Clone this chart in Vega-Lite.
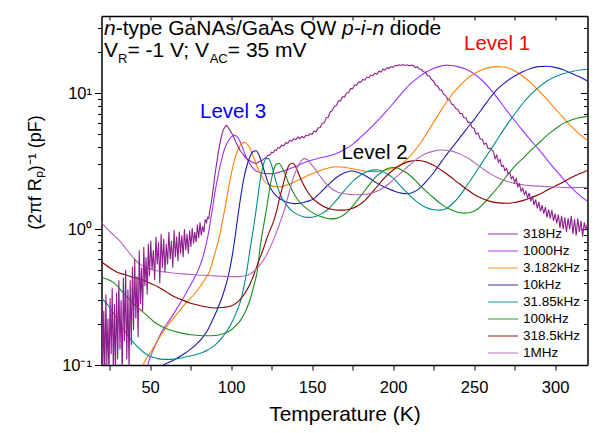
{
"$schema": "https://vega.github.io/schema/vega-lite/v6.json",
"width": 486, "height": 349,
"autosize": {"type": "none"},
"padding": {"left": 101.5, "top": 16, "right": 14.5, "bottom": 68},
"background": "white",
"config": {"font": "Liberation Sans", "view": {"stroke": null},
  "axis": {"grid": false, "domainColor": "black", "domainWidth": 1.5, "tickColor": "black", "tickWidth": 1, "labelColor": "black", "titleColor": "black", "titleFontWeight": "normal", "labelFont": "Liberation Sans", "titleFont": "Liberation Sans", "labelOverlap": false, "labelBound": false, "labelFlush": false}},
"datasets": {
"noisy": [
{"f":"318Hz","T":20.3,"C":0.30},{"f":"318Hz","T":20.8,"C":0.09},{"f":"318Hz","T":21.4,"C":0.25},{"f":"318Hz","T":22.0,"C":0.08},{"f":"318Hz","T":22.7,"C":0.33},{"f":"318Hz","T":23.3,"C":0.10},{"f":"318Hz","T":24.0,"C":0.22},{"f":"318Hz","T":24.6,"C":0.08},{"f":"318Hz","T":25.3,"C":0.31},{"f":"318Hz","T":26.0,"C":0.12},{"f":"318Hz","T":26.6,"C":0.37},{"f":"318Hz","T":27.3,"C":0.09},{"f":"318Hz","T":28.0,"C":0.28},{"f":"318Hz","T":28.6,"C":0.08},{"f":"318Hz","T":29.3,"C":0.34},{"f":"318Hz","T":30.0,"C":0.11},{"f":"318Hz","T":30.7,"C":0.42},{"f":"318Hz","T":31.4,"C":0.13},{"f":"318Hz","T":32.1,"C":0.30},{"f":"318Hz","T":32.8,"C":0.08},{"f":"318Hz","T":33.5,"C":0.44},{"f":"318Hz","T":34.2,"C":0.15},{"f":"318Hz","T":34.9,"C":0.50},{"f":"318Hz","T":35.6,"C":0.11},{"f":"318Hz","T":36.3,"C":0.36},{"f":"318Hz","T":37.0,"C":0.09},{"f":"318Hz","T":37.7,"C":0.42},{"f":"318Hz","T":38.4,"C":0.14},{"f":"318Hz","T":39.1,"C":0.53},{"f":"318Hz","T":39.8,"C":0.18},{"f":"318Hz","T":40.5,"C":0.60},{"f":"318Hz","T":41.2,"C":0.22},{"f":"318Hz","T":41.9,"C":0.45},{"f":"318Hz","T":42.6,"C":0.16},{"f":"318Hz","T":43.3,"C":0.70},{"f":"318Hz","T":44.0,"C":0.28},{"f":"318Hz","T":44.7,"C":0.52},{"f":"318Hz","T":45.4,"C":0.25},{"f":"318Hz","T":46.1,"C":0.74},{"f":"318Hz","T":46.8,"C":0.38},{"f":"318Hz","T":47.5,"C":0.62},{"f":"318Hz","T":48.2,"C":0.33},{"f":"318Hz","T":48.9,"C":0.78},{"f":"318Hz","T":49.6,"C":0.45},{"f":"318Hz","T":50.4,"C":0.82},{"f":"318Hz","T":51.2,"C":0.50},{"f":"318Hz","T":52.0,"C":0.70},{"f":"318Hz","T":52.8,"C":0.42},{"f":"318Hz","T":53.6,"C":0.88},{"f":"318Hz","T":54.4,"C":0.55},{"f":"318Hz","T":55.2,"C":0.80},{"f":"318Hz","T":56.0,"C":0.40},{"f":"318Hz","T":56.8,"C":0.92},{"f":"318Hz","T":57.6,"C":0.52},{"f":"318Hz","T":58.4,"C":0.85},{"f":"318Hz","T":59.2,"C":0.48},{"f":"318Hz","T":60.0,"C":0.78},{"f":"318Hz","T":60.8,"C":0.55},{"f":"318Hz","T":61.6,"C":0.95},{"f":"318Hz","T":62.4,"C":0.60},{"f":"318Hz","T":63.2,"C":0.82},{"f":"318Hz","T":64.0,"C":0.52},{"f":"318Hz","T":64.8,"C":0.98},{"f":"318Hz","T":65.6,"C":0.62},{"f":"318Hz","T":66.4,"C":0.88},{"f":"318Hz","T":67.2,"C":0.58},{"f":"318Hz","T":68.0,"C":0.96},{"f":"318Hz","T":68.8,"C":0.66},{"f":"318Hz","T":69.6,"C":0.90},{"f":"318Hz","T":70.4,"C":0.62},{"f":"318Hz","T":71.2,"C":1.00},{"f":"318Hz","T":72.0,"C":0.70},{"f":"318Hz","T":72.8,"C":0.92},{"f":"318Hz","T":73.6,"C":0.66},{"f":"318Hz","T":74.4,"C":0.98},{"f":"318Hz","T":75.2,"C":0.74},{"f":"318Hz","T":76.0,"C":1.02},{"f":"318Hz","T":76.8,"C":0.78},{"f":"318Hz","T":77.6,"C":0.95},{"f":"318Hz","T":78.4,"C":0.80},{"f":"318Hz","T":79.2,"C":1.08},{"f":"318Hz","T":80.0,"C":0.86},{"f":"318Hz","T":80.8,"C":1.12},{"f":"318Hz","T":81.6,"C":0.90},{"f":"318Hz","T":82.4,"C":1.05},{"f":"318Hz","T":83.2,"C":0.95},{"f":"318Hz","T":84.0,"C":1.18},{"f":"318Hz","T":84.8,"C":1.12},{"f":"318Hz","T":85.5,"C":1.22},{"f":"318Hz","T":86.2,"C":1.20},{"f":"318Hz","T":87.0,"C":1.40},{"f":"318Hz","T":88.0,"C":1.63},{"f":"318Hz","T":89.0,"C":2.0},{"f":"318Hz","T":90.0,"C":2.5},{"f":"318Hz","T":91.0,"C":3.0},{"f":"318Hz","T":92.0,"C":3.6},{"f":"318Hz","T":93.0,"C":4.2},{"f":"318Hz","T":94.0,"C":4.8},{"f":"318Hz","T":95.0,"C":5.3},{"f":"318Hz","T":96.0,"C":5.6},{"f":"318Hz","T":97.0,"C":5.8},{"f":"318Hz","T":97.8,"C":5.7},{"f":"318Hz","T":98.5,"C":5.5},{"f":"318Hz","T":99.5,"C":5.3},{"f":"318Hz","T":100.3,"C":5.1},{"f":"318Hz","T":101.2,"C":4.9},{"f":"318Hz","T":102.5,"C":4.5},{"f":"318Hz","T":104.0,"C":4.1},{"f":"318Hz","T":105.5,"C":3.8},{"f":"318Hz","T":107.0,"C":3.6},{"f":"318Hz","T":108.5,"C":3.4},{"f":"318Hz","T":110.0,"C":3.25},{"f":"318Hz","T":111.5,"C":3.2},{"f":"318Hz","T":113.0,"C":3.1},{"f":"318Hz","T":114.5,"C":3.05},{"f":"318Hz","T":116.0,"C":3.05},{"f":"318Hz","T":117.5,"C":3.15},{"f":"318Hz","T":119.0,"C":3.2},{"f":"318Hz","T":120.5,"C":3.3},{"f":"318Hz","T":122,"C":3.4},{"f":"318Hz","T":123,"C":3.5},{"f":"318Hz","T":124,"C":3.5},{"f":"318Hz","T":125,"C":3.68},{"f":"318Hz","T":126,"C":3.65},{"f":"318Hz","T":127,"C":3.82},{"f":"318Hz","T":128,"C":3.8},{"f":"318Hz","T":129,"C":3.98},{"f":"318Hz","T":130,"C":3.95},{"f":"318Hz","T":131.2,"C":4.15},{"f":"318Hz","T":132.5,"C":4.1},{"f":"318Hz","T":133.7,"C":4.32},{"f":"318Hz","T":135,"C":4.28},{"f":"318Hz","T":136.2,"C":4.5},{"f":"318Hz","T":137.5,"C":4.42},{"f":"318Hz","T":138.7,"C":4.62},{"f":"318Hz","T":140,"C":4.55},{"f":"318Hz","T":141.2,"C":4.75},{"f":"318Hz","T":142.5,"C":4.62},{"f":"318Hz","T":143.7,"C":4.8},{"f":"318Hz","T":145,"C":4.7},{"f":"318Hz","T":146.2,"C":4.92},{"f":"318Hz","T":147.5,"C":4.85},{"f":"318Hz","T":148.7,"C":5.05},{"f":"318Hz","T":150,"C":4.98},{"f":"318Hz","T":151.2,"C":5.25},{"f":"318Hz","T":152.5,"C":5.2},{"f":"318Hz","T":153.7,"C":5.55},{"f":"318Hz","T":155,"C":5.6},{"f":"318Hz","T":156.2,"C":6.0},{"f":"318Hz","T":157.5,"C":6.05},{"f":"318Hz","T":158.7,"C":6.6},{"f":"318Hz","T":160,"C":6.65},{"f":"318Hz","T":161.2,"C":7.3},{"f":"318Hz","T":162.5,"C":7.45},{"f":"318Hz","T":163.7,"C":8.0},{"f":"318Hz","T":165,"C":8.1},{"f":"318Hz","T":166.2,"C":8.8},{"f":"318Hz","T":167.5,"C":8.75},{"f":"318Hz","T":168.7,"C":9.4},{"f":"318Hz","T":170,"C":9.4},{"f":"318Hz","T":171.2,"C":10.0},{"f":"318Hz","T":172.5,"C":10.1},{"f":"318Hz","T":173.7,"C":10.8},{"f":"318Hz","T":175,"C":10.8},{"f":"318Hz","T":176.2,"C":11.5},{"f":"318Hz","T":177.5,"C":11.4},{"f":"318Hz","T":178.7,"C":12.1},{"f":"318Hz","T":180,"C":12.0},{"f":"318Hz","T":181.2,"C":12.6},{"f":"318Hz","T":182.5,"C":12.5},{"f":"318Hz","T":183.7,"C":13.1},{"f":"318Hz","T":185,"C":13.0},{"f":"318Hz","T":186.2,"C":13.6},{"f":"318Hz","T":187.5,"C":13.4},{"f":"318Hz","T":188.7,"C":14.0},{"f":"318Hz","T":190,"C":13.8},{"f":"318Hz","T":191.2,"C":14.5},{"f":"318Hz","T":192.5,"C":14.3},{"f":"318Hz","T":193.7,"C":15.0},{"f":"318Hz","T":195,"C":14.8},{"f":"318Hz","T":196.2,"C":15.4},{"f":"318Hz","T":197.5,"C":15.2},{"f":"318Hz","T":198.7,"C":15.7},{"f":"318Hz","T":200,"C":15.5},{"f":"318Hz","T":201.2,"C":16.0},{"f":"318Hz","T":202.5,"C":15.9},{"f":"318Hz","T":203.7,"C":16.2},{"f":"318Hz","T":205,"C":16.0},{"f":"318Hz","T":206.2,"C":16.25},{"f":"318Hz","T":207.5,"C":16.0},{"f":"318Hz","T":208.7,"C":16.2},{"f":"318Hz","T":210,"C":15.9},{"f":"318Hz","T":211.2,"C":16.1},{"f":"318Hz","T":212.5,"C":15.9},{"f":"318Hz","T":213.7,"C":15.5},{"f":"318Hz","T":215,"C":15.6},{"f":"318Hz","T":216.2,"C":15.0},{"f":"318Hz","T":217.5,"C":15.0},{"f":"318Hz","T":218.7,"C":14.4},{"f":"318Hz","T":220,"C":14.3},{"f":"318Hz","T":221.2,"C":13.5},{"f":"318Hz","T":222.5,"C":13.4},{"f":"318Hz","T":223.7,"C":12.6},{"f":"318Hz","T":225,"C":12.3},{"f":"318Hz","T":226.2,"C":11.5},{"f":"318Hz","T":227.5,"C":11.3},{"f":"318Hz","T":228.7,"C":10.6},{"f":"318Hz","T":230,"C":10.5},{"f":"318Hz","T":231.2,"C":9.8},{"f":"318Hz","T":232.5,"C":9.6},{"f":"318Hz","T":233.7,"C":9.0},{"f":"318Hz","T":235,"C":8.9},{"f":"318Hz","T":236.2,"C":8.3},{"f":"318Hz","T":237.5,"C":8.2},{"f":"318Hz","T":238.7,"C":7.7},{"f":"318Hz","T":240,"C":7.6},{"f":"318Hz","T":241.2,"C":7.1},{"f":"318Hz","T":242.5,"C":7.1},{"f":"318Hz","T":243.7,"C":6.6},{"f":"318Hz","T":245,"C":6.6},{"f":"318Hz","T":246.2,"C":6.1},{"f":"318Hz","T":247.5,"C":6.1},{"f":"318Hz","T":248.7,"C":5.6},{"f":"318Hz","T":250,"C":5.5},{"f":"318Hz","T":251.2,"C":5.0},{"f":"318Hz","T":252.5,"C":5.1},{"f":"318Hz","T":253.7,"C":4.6},{"f":"318Hz","T":255,"C":4.6},{"f":"318Hz","T":256.2,"C":4.2},{"f":"318Hz","T":257.5,"C":4.3},{"f":"318Hz","T":258.7,"C":3.9},{"f":"318Hz","T":260,"C":3.95},{"f":"318Hz","T":262,"C":3.7},{"f":"318Hz","T":263,"C":3.3},{"f":"318Hz","T":264,"C":3.5},{"f":"318Hz","T":265,"C":3.1},{"f":"318Hz","T":266,"C":3.25},{"f":"318Hz","T":267,"C":2.9},{"f":"318Hz","T":268,"C":2.95},{"f":"318Hz","T":269,"C":2.7},{"f":"318Hz","T":270,"C":2.8},{"f":"318Hz","T":271,"C":2.55},{"f":"318Hz","T":272,"C":2.6},{"f":"318Hz","T":273,"C":2.35},{"f":"318Hz","T":274,"C":2.45},{"f":"318Hz","T":275,"C":2.2},{"f":"318Hz","T":276,"C":2.35},{"f":"318Hz","T":277,"C":2.05},{"f":"318Hz","T":278,"C":2.15},{"f":"318Hz","T":279,"C":1.9},{"f":"318Hz","T":280,"C":2.0},{"f":"318Hz","T":281,"C":1.8},{"f":"318Hz","T":282,"C":1.9},{"f":"318Hz","T":283,"C":1.7},{"f":"318Hz","T":284,"C":1.85},{"f":"318Hz","T":285,"C":1.6},{"f":"318Hz","T":286,"C":1.75},{"f":"318Hz","T":287,"C":1.5},{"f":"318Hz","T":288,"C":1.65},{"f":"318Hz","T":289,"C":1.42},{"f":"318Hz","T":290,"C":1.58},{"f":"318Hz","T":291,"C":1.35},{"f":"318Hz","T":292,"C":1.5},{"f":"318Hz","T":293,"C":1.3},{"f":"318Hz","T":294,"C":1.45},{"f":"318Hz","T":295,"C":1.22},{"f":"318Hz","T":296,"C":1.4},{"f":"318Hz","T":297,"C":1.2},{"f":"318Hz","T":298,"C":1.38},{"f":"318Hz","T":299,"C":1.15},{"f":"318Hz","T":300,"C":1.3},{"f":"318Hz","T":301,"C":1.1},{"f":"318Hz","T":302,"C":1.28},{"f":"318Hz","T":303,"C":1.02},{"f":"318Hz","T":304,"C":1.25},{"f":"318Hz","T":305,"C":1.0},{"f":"318Hz","T":306,"C":1.22},{"f":"318Hz","T":307,"C":0.95},{"f":"318Hz","T":308,"C":1.2},{"f":"318Hz","T":309,"C":1.0},{"f":"318Hz","T":310,"C":1.25},{"f":"318Hz","T":311,"C":0.92},{"f":"318Hz","T":312,"C":1.18},{"f":"318Hz","T":313,"C":0.9},{"f":"318Hz","T":314,"C":1.2},{"f":"318Hz","T":315,"C":0.95},{"f":"318Hz","T":316,"C":1.15},{"f":"318Hz","T":317,"C":0.88},{"f":"318Hz","T":318,"C":1.12},{"f":"318Hz","T":319,"C":0.98},{"f":"318Hz","T":320,"C":1.1}
],
"smooth": [
{"f":"1000Hz","T":48.5,"C":0.1},{"f":"1000Hz","T":50,"C":0.113},{"f":"1000Hz","T":53,"C":0.138},{"f":"1000Hz","T":56,"C":0.165},{"f":"1000Hz","T":59,"C":0.19},{"f":"1000Hz","T":62,"C":0.214},{"f":"1000Hz","T":65,"C":0.243},{"f":"1000Hz","T":68,"C":0.278},{"f":"1000Hz","T":71,"C":0.318},{"f":"1000Hz","T":74,"C":0.37},{"f":"1000Hz","T":77,"C":0.43},{"f":"1000Hz","T":80,"C":0.51},{"f":"1000Hz","T":82,"C":0.59},{"f":"1000Hz","T":84,"C":0.72},{"f":"1000Hz","T":86,"C":0.93},{"f":"1000Hz","T":88,"C":1.3},{"f":"1000Hz","T":90,"C":1.85},{"f":"1000Hz","T":92,"C":2.5},{"f":"1000Hz","T":94,"C":3.2},{"f":"1000Hz","T":96,"C":3.9},{"f":"1000Hz","T":98,"C":4.4},{"f":"1000Hz","T":100,"C":4.75},{"f":"1000Hz","T":102,"C":4.9},{"f":"1000Hz","T":103.5,"C":4.8},{"f":"1000Hz","T":105,"C":4.55},{"f":"1000Hz","T":107,"C":4.0},{"f":"1000Hz","T":109,"C":3.45},{"f":"1000Hz","T":111,"C":3.1},{"f":"1000Hz","T":113,"C":2.85},{"f":"1000Hz","T":115,"C":2.7},{"f":"1000Hz","T":117.5,"C":2.62},{"f":"1000Hz","T":120,"C":2.58},{"f":"1000Hz","T":122.5,"C":2.56},{"f":"1000Hz","T":125,"C":2.56},{"f":"1000Hz","T":127.5,"C":2.58},{"f":"1000Hz","T":130,"C":2.63},{"f":"1000Hz","T":135,"C":2.75},{"f":"1000Hz","T":140,"C":2.9},{"f":"1000Hz","T":145,"C":3.08},{"f":"1000Hz","T":150,"C":3.22},{"f":"1000Hz","T":155,"C":3.35},{"f":"1000Hz","T":160,"C":3.45},{"f":"1000Hz","T":165,"C":3.6},{"f":"1000Hz","T":170,"C":3.85},{"f":"1000Hz","T":175,"C":4.2},{"f":"1000Hz","T":180,"C":4.75},{"f":"1000Hz","T":185,"C":5.4},{"f":"1000Hz","T":190,"C":6.2},{"f":"1000Hz","T":195,"C":7.2},{"f":"1000Hz","T":200,"C":8.4},{"f":"1000Hz","T":205,"C":9.9},{"f":"1000Hz","T":210,"C":11.5},{"f":"1000Hz","T":215,"C":12.9},{"f":"1000Hz","T":220,"C":14.2},{"f":"1000Hz","T":225,"C":15.2},{"f":"1000Hz","T":230,"C":15.9},{"f":"1000Hz","T":233,"C":16.1},{"f":"1000Hz","T":236,"C":16.0},{"f":"1000Hz","T":240,"C":15.7},{"f":"1000Hz","T":245,"C":15.0},{"f":"1000Hz","T":250,"C":13.9},{"f":"1000Hz","T":255,"C":12.4},{"f":"1000Hz","T":260,"C":10.7},{"f":"1000Hz","T":265,"C":9.0},{"f":"1000Hz","T":270,"C":7.5},{"f":"1000Hz","T":275,"C":6.3},{"f":"1000Hz","T":280,"C":5.3},{"f":"1000Hz","T":285,"C":4.5},{"f":"1000Hz","T":290,"C":3.85},{"f":"1000Hz","T":295,"C":3.25},{"f":"1000Hz","T":300,"C":2.75},{"f":"1000Hz","T":305,"C":2.35},{"f":"1000Hz","T":310,"C":2.02},{"f":"1000Hz","T":315,"C":1.78},{"f":"1000Hz","T":320,"C":1.6},
{"f":"3.182kHz","T":45.5,"C":0.1},{"f":"3.182kHz","T":48,"C":0.113},{"f":"3.182kHz","T":51,"C":0.128},{"f":"3.182kHz","T":54,"C":0.147},{"f":"3.182kHz","T":57,"C":0.168},{"f":"3.182kHz","T":60,"C":0.19},{"f":"3.182kHz","T":63,"C":0.21},{"f":"3.182kHz","T":66,"C":0.233},{"f":"3.182kHz","T":69,"C":0.258},{"f":"3.182kHz","T":72,"C":0.285},{"f":"3.182kHz","T":75,"C":0.31},{"f":"3.182kHz","T":78,"C":0.34},{"f":"3.182kHz","T":81,"C":0.38},{"f":"3.182kHz","T":84,"C":0.43},{"f":"3.182kHz","T":87,"C":0.5},{"f":"3.182kHz","T":89,"C":0.6},{"f":"3.182kHz","T":91,"C":0.73},{"f":"3.182kHz","T":93,"C":0.9},{"f":"3.182kHz","T":95,"C":1.2},{"f":"3.182kHz","T":97,"C":1.6},{"f":"3.182kHz","T":99,"C":2.2},{"f":"3.182kHz","T":101,"C":2.85},{"f":"3.182kHz","T":103,"C":3.5},{"f":"3.182kHz","T":105,"C":4.0},{"f":"3.182kHz","T":107,"C":4.3},{"f":"3.182kHz","T":108.5,"C":4.35},{"f":"3.182kHz","T":110,"C":4.2},{"f":"3.182kHz","T":112,"C":3.85},{"f":"3.182kHz","T":114,"C":3.35},{"f":"3.182kHz","T":116,"C":2.9},{"f":"3.182kHz","T":118,"C":2.55},{"f":"3.182kHz","T":120,"C":2.3},{"f":"3.182kHz","T":122.5,"C":2.15},{"f":"3.182kHz","T":125,"C":2.08},{"f":"3.182kHz","T":127.5,"C":2.05},{"f":"3.182kHz","T":130,"C":2.05},{"f":"3.182kHz","T":133,"C":2.08},{"f":"3.182kHz","T":136,"C":2.15},{"f":"3.182kHz","T":140,"C":2.25},{"f":"3.182kHz","T":145,"C":2.4},{"f":"3.182kHz","T":150,"C":2.55},{"f":"3.182kHz","T":155,"C":2.7},{"f":"3.182kHz","T":160,"C":2.82},{"f":"3.182kHz","T":165,"C":2.88},{"f":"3.182kHz","T":170,"C":2.85},{"f":"3.182kHz","T":175,"C":2.78},{"f":"3.182kHz","T":180,"C":2.7},{"f":"3.182kHz","T":185,"C":2.65},{"f":"3.182kHz","T":190,"C":2.65},{"f":"3.182kHz","T":195,"C":2.7},{"f":"3.182kHz","T":200,"C":2.8},{"f":"3.182kHz","T":205,"C":3.0},{"f":"3.182kHz","T":210,"C":3.4},{"f":"3.182kHz","T":215,"C":4.0},{"f":"3.182kHz","T":220,"C":4.9},{"f":"3.182kHz","T":225,"C":6.1},{"f":"3.182kHz","T":230,"C":7.6},{"f":"3.182kHz","T":235,"C":9.3},{"f":"3.182kHz","T":240,"C":11.0},{"f":"3.182kHz","T":245,"C":12.6},{"f":"3.182kHz","T":250,"C":13.9},{"f":"3.182kHz","T":255,"C":14.9},{"f":"3.182kHz","T":260,"C":15.5},{"f":"3.182kHz","T":264,"C":15.7},{"f":"3.182kHz","T":268,"C":15.6},{"f":"3.182kHz","T":272,"C":15.2},{"f":"3.182kHz","T":276,"C":14.4},{"f":"3.182kHz","T":280,"C":13.4},{"f":"3.182kHz","T":285,"C":11.9},{"f":"3.182kHz","T":290,"C":10.4},{"f":"3.182kHz","T":295,"C":9.0},{"f":"3.182kHz","T":300,"C":7.7},{"f":"3.182kHz","T":305,"C":6.6},{"f":"3.182kHz","T":310,"C":5.7},{"f":"3.182kHz","T":315,"C":5.0},{"f":"3.182kHz","T":320,"C":4.5},
{"f":"10kHz","T":58,"C":0.1},{"f":"10kHz","T":62,"C":0.105},{"f":"10kHz","T":66,"C":0.111},{"f":"10kHz","T":70,"C":0.119},{"f":"10kHz","T":74,"C":0.128},{"f":"10kHz","T":78,"C":0.14},{"f":"10kHz","T":82,"C":0.157},{"f":"10kHz","T":86,"C":0.185},{"f":"10kHz","T":89,"C":0.22},{"f":"10kHz","T":92,"C":0.265},{"f":"10kHz","T":95,"C":0.33},{"f":"10kHz","T":98,"C":0.44},{"f":"10kHz","T":100,"C":0.57},{"f":"10kHz","T":102,"C":0.8},{"f":"10kHz","T":104,"C":1.2},{"f":"10kHz","T":106,"C":1.75},{"f":"10kHz","T":108,"C":2.4},{"f":"10kHz","T":110,"C":3.0},{"f":"10kHz","T":112,"C":3.5},{"f":"10kHz","T":114,"C":3.75},{"f":"10kHz","T":115.5,"C":3.77},{"f":"10kHz","T":117,"C":3.55},{"f":"10kHz","T":119,"C":3.05},{"f":"10kHz","T":121,"C":2.55},{"f":"10kHz","T":123,"C":2.18},{"f":"10kHz","T":125.5,"C":1.9},{"f":"10kHz","T":128,"C":1.75},{"f":"10kHz","T":131,"C":1.65},{"f":"10kHz","T":135,"C":1.57},{"f":"10kHz","T":139,"C":1.54},{"f":"10kHz","T":143,"C":1.55},{"f":"10kHz","T":147,"C":1.6},{"f":"10kHz","T":151,"C":1.67},{"f":"10kHz","T":155,"C":1.85},{"f":"10kHz","T":160,"C":2.12},{"f":"10kHz","T":165,"C":2.4},{"f":"10kHz","T":170,"C":2.6},{"f":"10kHz","T":174,"C":2.68},{"f":"10kHz","T":178,"C":2.62},{"f":"10kHz","T":182,"C":2.5},{"f":"10kHz","T":186,"C":2.35},{"f":"10kHz","T":190,"C":2.18},{"f":"10kHz","T":195,"C":2.03},{"f":"10kHz","T":200,"C":1.92},{"f":"10kHz","T":205,"C":1.84},{"f":"10kHz","T":209,"C":1.82},{"f":"10kHz","T":213,"C":1.88},{"f":"10kHz","T":217,"C":2.03},{"f":"10kHz","T":221,"C":2.28},{"f":"10kHz","T":225,"C":2.6},{"f":"10kHz","T":230,"C":3.15},{"f":"10kHz","T":235,"C":3.8},{"f":"10kHz","T":240,"C":4.5},{"f":"10kHz","T":245,"C":5.4},{"f":"10kHz","T":250,"C":6.4},{"f":"10kHz","T":255,"C":7.7},{"f":"10kHz","T":260,"C":9.3},{"f":"10kHz","T":265,"C":10.9},{"f":"10kHz","T":270,"C":12.2},{"f":"10kHz","T":275,"C":13.4},{"f":"10kHz","T":280,"C":14.4},{"f":"10kHz","T":285,"C":15.2},{"f":"10kHz","T":290,"C":15.7},{"f":"10kHz","T":295,"C":15.8},{"f":"10kHz","T":300,"C":15.5},{"f":"10kHz","T":305,"C":14.9},{"f":"10kHz","T":310,"C":14.0},{"f":"10kHz","T":315,"C":13.2},{"f":"10kHz","T":320,"C":12.3},
{"f":"31.85kHz","T":20,"C":0.31},{"f":"31.85kHz","T":23,"C":0.285},{"f":"31.85kHz","T":26,"C":0.255},{"f":"31.85kHz","T":30,"C":0.215},{"f":"31.85kHz","T":34,"C":0.18},{"f":"31.85kHz","T":38,"C":0.155},{"f":"31.85kHz","T":42,"C":0.137},{"f":"31.85kHz","T":46,"C":0.124},{"f":"31.85kHz","T":50,"C":0.116},{"f":"31.85kHz","T":54,"C":0.112},{"f":"31.85kHz","T":58,"C":0.11},{"f":"31.85kHz","T":62,"C":0.11},{"f":"31.85kHz","T":66,"C":0.111},{"f":"31.85kHz","T":70,"C":0.113},{"f":"31.85kHz","T":74,"C":0.116},{"f":"31.85kHz","T":78,"C":0.119},{"f":"31.85kHz","T":82,"C":0.123},{"f":"31.85kHz","T":86,"C":0.13},{"f":"31.85kHz","T":90,"C":0.14},{"f":"31.85kHz","T":94,"C":0.157},{"f":"31.85kHz","T":97,"C":0.175},{"f":"31.85kHz","T":100,"C":0.2},{"f":"31.85kHz","T":103,"C":0.24},{"f":"31.85kHz","T":106,"C":0.3},{"f":"31.85kHz","T":108,"C":0.38},{"f":"31.85kHz","T":110,"C":0.52},{"f":"31.85kHz","T":112,"C":0.75},{"f":"31.85kHz","T":114,"C":1.05},{"f":"31.85kHz","T":116,"C":1.55},{"f":"31.85kHz","T":118,"C":2.3},{"f":"31.85kHz","T":120,"C":3.0},{"f":"31.85kHz","T":121.5,"C":3.3},{"f":"31.85kHz","T":123,"C":3.3},{"f":"31.85kHz","T":125,"C":2.95},{"f":"31.85kHz","T":127,"C":2.4},{"f":"31.85kHz","T":129,"C":1.98},{"f":"31.85kHz","T":131,"C":1.73},{"f":"31.85kHz","T":134,"C":1.52},{"f":"31.85kHz","T":137,"C":1.38},{"f":"31.85kHz","T":140,"C":1.3},{"f":"31.85kHz","T":144,"C":1.24},{"f":"31.85kHz","T":148,"C":1.22},{"f":"31.85kHz","T":152,"C":1.24},{"f":"31.85kHz","T":156,"C":1.3},{"f":"31.85kHz","T":160,"C":1.4},{"f":"31.85kHz","T":164,"C":1.58},{"f":"31.85kHz","T":168,"C":1.8},{"f":"31.85kHz","T":172,"C":2.05},{"f":"31.85kHz","T":176,"C":2.3},{"f":"31.85kHz","T":180,"C":2.5},{"f":"31.85kHz","T":184,"C":2.65},{"f":"31.85kHz","T":188,"C":2.73},{"f":"31.85kHz","T":191,"C":2.72},{"f":"31.85kHz","T":195,"C":2.6},{"f":"31.85kHz","T":200,"C":2.38},{"f":"31.85kHz","T":205,"C":2.05},{"f":"31.85kHz","T":210,"C":1.78},{"f":"31.85kHz","T":215,"C":1.58},{"f":"31.85kHz","T":220,"C":1.45},{"f":"31.85kHz","T":225,"C":1.39},{"f":"31.85kHz","T":229,"C":1.38},{"f":"31.85kHz","T":233,"C":1.42},{"f":"31.85kHz","T":237,"C":1.55},{"f":"31.85kHz","T":241,"C":1.75},{"f":"31.85kHz","T":245,"C":2.05},{"f":"31.85kHz","T":250,"C":2.5},{"f":"31.85kHz","T":255,"C":3.1},{"f":"31.85kHz","T":260,"C":3.8},{"f":"31.85kHz","T":265,"C":4.7},{"f":"31.85kHz","T":270,"C":5.8},{"f":"31.85kHz","T":275,"C":7.0},{"f":"31.85kHz","T":280,"C":8.4},{"f":"31.85kHz","T":285,"C":9.8},{"f":"31.85kHz","T":290,"C":11.1},{"f":"31.85kHz","T":295,"C":12.3},{"f":"31.85kHz","T":300,"C":13.2},{"f":"31.85kHz","T":305,"C":13.9},{"f":"31.85kHz","T":310,"C":14.4},{"f":"31.85kHz","T":315,"C":14.8},{"f":"31.85kHz","T":320,"C":15.0},
{"f":"100kHz","T":20,"C":0.44},{"f":"100kHz","T":24,"C":0.425},{"f":"100kHz","T":28,"C":0.4},{"f":"100kHz","T":32,"C":0.355},{"f":"100kHz","T":36,"C":0.315},{"f":"100kHz","T":40,"C":0.28},{"f":"100kHz","T":44,"C":0.255},{"f":"100kHz","T":48,"C":0.232},{"f":"100kHz","T":52,"C":0.21},{"f":"100kHz","T":56,"C":0.195},{"f":"100kHz","T":60,"C":0.185},{"f":"100kHz","T":65,"C":0.177},{"f":"100kHz","T":70,"C":0.171},{"f":"100kHz","T":75,"C":0.167},{"f":"100kHz","T":80,"C":0.165},{"f":"100kHz","T":85,"C":0.164},{"f":"100kHz","T":90,"C":0.165},{"f":"100kHz","T":95,"C":0.17},{"f":"100kHz","T":99,"C":0.178},{"f":"100kHz","T":103,"C":0.195},{"f":"100kHz","T":106,"C":0.215},{"f":"100kHz","T":109,"C":0.25},{"f":"100kHz","T":112,"C":0.31},{"f":"100kHz","T":114,"C":0.38},{"f":"100kHz","T":116,"C":0.48},{"f":"100kHz","T":118,"C":0.75},{"f":"100kHz","T":120,"C":1.05},{"f":"100kHz","T":122,"C":1.45},{"f":"100kHz","T":124,"C":2.05},{"f":"100kHz","T":126,"C":2.65},{"f":"100kHz","T":128,"C":3.0},{"f":"100kHz","T":129.5,"C":3.05},{"f":"100kHz","T":131,"C":2.9},{"f":"100kHz","T":133,"C":2.6},{"f":"100kHz","T":135,"C":2.25},{"f":"100kHz","T":138,"C":1.9},{"f":"100kHz","T":141,"C":1.65},{"f":"100kHz","T":145,"C":1.47},{"f":"100kHz","T":149,"C":1.35},{"f":"100kHz","T":153,"C":1.27},{"f":"100kHz","T":157,"C":1.22},{"f":"100kHz","T":161,"C":1.19},{"f":"100kHz","T":165,"C":1.2},{"f":"100kHz","T":169,"C":1.26},{"f":"100kHz","T":173,"C":1.38},{"f":"100kHz","T":177,"C":1.58},{"f":"100kHz","T":181,"C":1.82},{"f":"100kHz","T":185,"C":2.1},{"f":"100kHz","T":189,"C":2.4},{"f":"100kHz","T":193,"C":2.63},{"f":"100kHz","T":197,"C":2.8},{"f":"100kHz","T":200,"C":2.84},{"f":"100kHz","T":203,"C":2.8},{"f":"100kHz","T":207,"C":2.65},{"f":"100kHz","T":211,"C":2.45},{"f":"100kHz","T":215,"C":2.2},{"f":"100kHz","T":220,"C":1.92},{"f":"100kHz","T":225,"C":1.7},{"f":"100kHz","T":230,"C":1.52},{"f":"100kHz","T":235,"C":1.4},{"f":"100kHz","T":240,"C":1.33},{"f":"100kHz","T":244,"C":1.31},{"f":"100kHz","T":248,"C":1.33},{"f":"100kHz","T":252,"C":1.4},{"f":"100kHz","T":256,"C":1.55},{"f":"100kHz","T":260,"C":1.75},{"f":"100kHz","T":265,"C":2.05},{"f":"100kHz","T":270,"C":2.45},{"f":"100kHz","T":275,"C":2.9},{"f":"100kHz","T":280,"C":3.3},{"f":"100kHz","T":285,"C":3.8},{"f":"100kHz","T":290,"C":4.3},{"f":"100kHz","T":295,"C":4.9},{"f":"100kHz","T":300,"C":5.45},{"f":"100kHz","T":305,"C":6.0},{"f":"100kHz","T":310,"C":6.35},{"f":"100kHz","T":315,"C":6.6},{"f":"100kHz","T":320,"C":6.75},
{"f":"318.5kHz","T":20,"C":0.575},{"f":"318.5kHz","T":25,"C":0.52},{"f":"318.5kHz","T":30,"C":0.48},{"f":"318.5kHz","T":35,"C":0.46},{"f":"318.5kHz","T":40,"C":0.44},{"f":"318.5kHz","T":45,"C":0.425},{"f":"318.5kHz","T":50,"C":0.4},{"f":"318.5kHz","T":55,"C":0.375},{"f":"318.5kHz","T":60,"C":0.345},{"f":"318.5kHz","T":65,"C":0.318},{"f":"318.5kHz","T":70,"C":0.3},{"f":"318.5kHz","T":75,"C":0.285},{"f":"318.5kHz","T":80,"C":0.275},{"f":"318.5kHz","T":85,"C":0.267},{"f":"318.5kHz","T":90,"C":0.263},{"f":"318.5kHz","T":95,"C":0.265},{"f":"318.5kHz","T":100,"C":0.272},{"f":"318.5kHz","T":104,"C":0.29},{"f":"318.5kHz","T":108,"C":0.33},{"f":"318.5kHz","T":111,"C":0.38},{"f":"318.5kHz","T":114,"C":0.46},{"f":"318.5kHz","T":117,"C":0.58},{"f":"318.5kHz","T":120,"C":0.72},{"f":"318.5kHz","T":122,"C":0.85},{"f":"318.5kHz","T":124,"C":0.98},{"f":"318.5kHz","T":126,"C":1.12},{"f":"318.5kHz","T":128,"C":1.35},{"f":"318.5kHz","T":130,"C":1.7},{"f":"318.5kHz","T":132,"C":2.1},{"f":"318.5kHz","T":134,"C":2.6},{"f":"318.5kHz","T":136,"C":2.98},{"f":"318.5kHz","T":138,"C":3.05},{"f":"318.5kHz","T":140,"C":2.85},{"f":"318.5kHz","T":142,"C":2.5},{"f":"318.5kHz","T":144,"C":2.2},{"f":"318.5kHz","T":147,"C":1.9},{"f":"318.5kHz","T":150,"C":1.7},{"f":"318.5kHz","T":154,"C":1.55},{"f":"318.5kHz","T":158,"C":1.45},{"f":"318.5kHz","T":162,"C":1.4},{"f":"318.5kHz","T":166,"C":1.38},{"f":"318.5kHz","T":170,"C":1.38},{"f":"318.5kHz","T":174,"C":1.41},{"f":"318.5kHz","T":178,"C":1.48},{"f":"318.5kHz","T":182,"C":1.6},{"f":"318.5kHz","T":186,"C":1.8},{"f":"318.5kHz","T":190,"C":2.05},{"f":"318.5kHz","T":195,"C":2.4},{"f":"318.5kHz","T":200,"C":2.72},{"f":"318.5kHz","T":205,"C":2.98},{"f":"318.5kHz","T":210,"C":3.15},{"f":"318.5kHz","T":215,"C":3.2},{"f":"318.5kHz","T":220,"C":3.13},{"f":"318.5kHz","T":225,"C":2.95},{"f":"318.5kHz","T":230,"C":2.7},{"f":"318.5kHz","T":235,"C":2.45},{"f":"318.5kHz","T":240,"C":2.2},{"f":"318.5kHz","T":245,"C":1.98},{"f":"318.5kHz","T":250,"C":1.8},{"f":"318.5kHz","T":255,"C":1.68},{"f":"318.5kHz","T":260,"C":1.6},{"f":"318.5kHz","T":265,"C":1.56},{"f":"318.5kHz","T":270,"C":1.55},{"f":"318.5kHz","T":275,"C":1.57},{"f":"318.5kHz","T":280,"C":1.62},{"f":"318.5kHz","T":285,"C":1.7},{"f":"318.5kHz","T":290,"C":1.8},{"f":"318.5kHz","T":295,"C":1.93},{"f":"318.5kHz","T":300,"C":2.07},{"f":"318.5kHz","T":305,"C":2.22},{"f":"318.5kHz","T":310,"C":2.4},{"f":"318.5kHz","T":315,"C":2.55},{"f":"318.5kHz","T":320,"C":2.7},
{"f":"1MHz","T":20,"C":1.12},{"f":"1MHz","T":23,"C":1.02},{"f":"1MHz","T":26,"C":0.94},{"f":"1MHz","T":29,"C":0.87},{"f":"1MHz","T":32,"C":0.8},{"f":"1MHz","T":35,"C":0.72},{"f":"1MHz","T":38,"C":0.65},{"f":"1MHz","T":41,"C":0.59},{"f":"1MHz","T":44,"C":0.55},{"f":"1MHz","T":48,"C":0.52},{"f":"1MHz","T":52,"C":0.5},{"f":"1MHz","T":58,"C":0.485},{"f":"1MHz","T":64,"C":0.475},{"f":"1MHz","T":70,"C":0.468},{"f":"1MHz","T":76,"C":0.463},{"f":"1MHz","T":82,"C":0.458},{"f":"1MHz","T":88,"C":0.454},{"f":"1MHz","T":94,"C":0.45},{"f":"1MHz","T":100,"C":0.447},{"f":"1MHz","T":105,"C":0.447},{"f":"1MHz","T":109,"C":0.455},{"f":"1MHz","T":112,"C":0.47},{"f":"1MHz","T":115,"C":0.5},{"f":"1MHz","T":118,"C":0.55},{"f":"1MHz","T":121,"C":0.62},{"f":"1MHz","T":124,"C":0.73},{"f":"1MHz","T":127,"C":0.88},{"f":"1MHz","T":130,"C":1.1},{"f":"1MHz","T":133,"C":1.4},{"f":"1MHz","T":136,"C":1.9},{"f":"1MHz","T":139,"C":2.5},{"f":"1MHz","T":142,"C":3.0},{"f":"1MHz","T":145,"C":3.3},{"f":"1MHz","T":147,"C":3.25},{"f":"1MHz","T":149,"C":3.05},{"f":"1MHz","T":152,"C":2.75},{"f":"1MHz","T":155,"C":2.45},{"f":"1MHz","T":158,"C":2.2},{"f":"1MHz","T":162,"C":1.98},{"f":"1MHz","T":166,"C":1.87},{"f":"1MHz","T":170,"C":1.82},{"f":"1MHz","T":174,"C":1.8},{"f":"1MHz","T":178,"C":1.79},{"f":"1MHz","T":182,"C":1.8},{"f":"1MHz","T":186,"C":1.83},{"f":"1MHz","T":190,"C":1.9},{"f":"1MHz","T":195,"C":2.05},{"f":"1MHz","T":200,"C":2.3},{"f":"1MHz","T":205,"C":2.6},{"f":"1MHz","T":210,"C":2.95},{"f":"1MHz","T":215,"C":3.3},{"f":"1MHz","T":220,"C":3.58},{"f":"1MHz","T":225,"C":3.75},{"f":"1MHz","T":230,"C":3.82},{"f":"1MHz","T":235,"C":3.78},{"f":"1MHz","T":240,"C":3.62},{"f":"1MHz","T":245,"C":3.4},{"f":"1MHz","T":250,"C":3.1},{"f":"1MHz","T":255,"C":2.8},{"f":"1MHz","T":260,"C":2.55},{"f":"1MHz","T":265,"C":2.38},{"f":"1MHz","T":270,"C":2.25},{"f":"1MHz","T":275,"C":2.17},{"f":"1MHz","T":280,"C":2.12},{"f":"1MHz","T":285,"C":2.09},{"f":"1MHz","T":290,"C":2.07},{"f":"1MHz","T":300,"C":2.04},{"f":"1MHz","T":310,"C":2.02},{"f":"1MHz","T":320,"C":2.03}
],
"normalText": [{"T":28.77,"C":26.92,"s":"-type GaNAs/GaAs QW"},{"T":198.0,"C":26.92,"s":"diode"},{"T":21.54,"C":18.55,"s":"V"},{"T":36.0,"C":18.55,"s":"= -1 V; V"},{"T":97.96,"C":18.55,"s":"= 35 mV"}],
"italicText": [{"T":21.54,"C":26.92,"s":"n"},{"T":168.52,"C":26.92,"s":"p-i-n"}],
"subText": [{"T":30.19,"C":16.62,"s":"R"},{"T":86.79,"C":16.62,"s":"AC"}]
},
"layer": [
{"data": {"name": "smooth"},
 "mark": {"type": "line", "interpolate": "monotone", "strokeWidth": 1.1, "clip": true},
 "encoding": {
  "x": {"field": "T", "type": "quantitative", "scale": {"domain": [20, 320], "nice": false, "zero": false},
    "axis": {"orient": "bottom", "values": [25,50,75,100,125,150,175,200,225,250,275,300], "labelExpr": "datum.value % 50 == 0 ? datum.label : ''", "tickSize": 5, "labelFontSize": 16.5, "labelPadding": 9, "title": "Temperature (K)", "titleFontSize": 21, "titleBaseline": "alphabetic", "titleY": 55}},
  "y": {"field": "C", "type": "quantitative", "scale": {"type": "log", "domain": [0.1, 37], "nice": false},
    "axis": {"orient": "left", "values": [0.1,0.2,0.3,0.4,0.5,0.6,0.7,0.8,0.9,1,2,3,4,5,6,7,8,9,10,20,30],
      "labelExpr": "datum.value == 0.1 ? '10⁻¹' : datum.value == 1 ? '10⁰' : datum.value == 10 ? '10¹' : ''",
      "tickSize": {"condition": {"test": "datum.value == 0.1 || datum.value == 1 || datum.value == 10", "value": 7}, "value": 4},
      "labelFontSize": 16.5, "labelPadding": 3,
      "title": "(2πf Rₚ)⁻¹ (pF)", "titleFontSize": 18, "titleX": -66, "titleY": 156, "titleBaseline": "middle", "titleAlign": "center", "titleAngle": 270}},
  "color": {"field": "f", "type": "nominal",
    "scale": {"domain": ["318Hz","1000Hz","3.182kHz","10kHz","31.85kHz","100kHz","318.5kHz","1MHz"],
              "range": ["#8E1F8E","#9933FF","#FF8000","#1C1CA8","#008B8B","#1A8C1A","#8B0000","#B565B5"]},
    "legend": {"orient": "none", "legendX": 385.5, "legendY": 210.75, "title": null, "symbolType": "stroke", "symbolSize": 900, "symbolStrokeWidth": 1.5, "symbolOpacity": 0.6, "clipHeight": 14.5, "rowPadding": 2, "labelFontSize": 13.5, "labelOffset": 4, "labelColor": "black", "padding": 0, "labelFont": "Liberation Sans"}}
 }},
{"data": {"name": "noisy"},
 "mark": {"type": "line", "interpolate": "linear", "strokeWidth": 1.1, "clip": true},
 "encoding": {
  "x": {"field": "T", "type": "quantitative", "scale": {"domain": [20, 320], "nice": false, "zero": false}, "axis": null},
  "y": {"field": "C", "type": "quantitative", "scale": {"type": "log", "domain": [0.1, 37], "nice": false}, "axis": null},
  "color": {"field": "f", "type": "nominal"}
 }},
{"data": {"name": "normalText"},
 "mark": {"type": "text", "align": "left", "baseline": "alphabetic", "fontSize": 21, "font": "Liberation Sans", "color": "black"},
 "encoding": {
  "x": {"field": "T", "type": "quantitative", "scale": {"domain": [20, 320], "nice": false, "zero": false}, "axis": null},
  "y": {"field": "C", "type": "quantitative", "scale": {"type": "log", "domain": [0.1, 37], "nice": false}, "axis": null},
  "text": {"field": "s"}
 }},
{"data": {"name": "italicText"},
 "mark": {"type": "text", "align": "left", "baseline": "alphabetic", "fontSize": 21, "fontStyle": "italic", "font": "Liberation Sans", "color": "black"},
 "encoding": {
  "x": {"field": "T", "type": "quantitative", "scale": {"domain": [20, 320], "nice": false, "zero": false},
    "axis": {"orient": "top", "values": [25,50,75,100,125,150,175,200,225,250,275,300], "labels": false, "tickSize": -4, "title": null}},
  "y": {"field": "C", "type": "quantitative", "scale": {"type": "log", "domain": [0.1, 37], "nice": false},
    "axis": {"orient": "right", "values": [0.1,0.2,0.3,0.4,0.5,0.6,0.7,0.8,0.9,1,2,3,4,5,6,7,8,9,10,20,30], "labels": false, "title": null,
      "tickSize": {"condition": {"test": "datum.value == 0.1 || datum.value == 1 || datum.value == 10", "value": -7}, "value": -4}}},
  "text": {"field": "s"}
 }},
{"data": {"name": "subText"},
 "mark": {"type": "text", "align": "left", "baseline": "alphabetic", "fontSize": 13, "font": "Liberation Sans", "color": "black"},
 "encoding": {
  "x": {"field": "T", "type": "quantitative", "scale": {"domain": [20, 320], "nice": false, "zero": false}, "axis": null},
  "y": {"field": "C", "type": "quantitative", "scale": {"type": "log", "domain": [0.1, 37], "nice": false}, "axis": null},
  "text": {"field": "s"}
 }},
{"data": {"values": [{"T": 243.8, "C": 20.7, "s": "Level 1"}]},
 "mark": {"type": "text", "align": "left", "baseline": "alphabetic", "fontSize": 20.5, "font": "Liberation Sans", "color": "#FF0000"},
 "encoding": {
  "x": {"field": "T", "type": "quantitative", "scale": {"domain": [20, 320], "nice": false, "zero": false}, "axis": null},
  "y": {"field": "C", "type": "quantitative", "scale": {"type": "log", "domain": [0.1, 37], "nice": false}, "axis": null},
  "text": {"field": "s"}
 }},
{"data": {"values": [{"T": 168.1, "C": 3.30, "s": "Level 2"}]},
 "mark": {"type": "text", "align": "left", "baseline": "alphabetic", "fontSize": 20.5, "font": "Liberation Sans", "color": "#000000"},
 "encoding": {
  "x": {"field": "T", "type": "quantitative", "scale": {"domain": [20, 320], "nice": false, "zero": false}, "axis": null},
  "y": {"field": "C", "type": "quantitative", "scale": {"type": "log", "domain": [0.1, 37], "nice": false}, "axis": null},
  "text": {"field": "s"}
 }},
{"data": {"values": [{"T": 80.8, "C": 6.55, "s": "Level 3"}]},
 "mark": {"type": "text", "align": "left", "baseline": "alphabetic", "fontSize": 20.5, "font": "Liberation Sans", "color": "#0000FF"},
 "encoding": {
  "x": {"field": "T", "type": "quantitative", "scale": {"domain": [20, 320], "nice": false, "zero": false}, "axis": null},
  "y": {"field": "C", "type": "quantitative", "scale": {"type": "log", "domain": [0.1, 37], "nice": false}, "axis": null},
  "text": {"field": "s"}
 }}
],
"resolve": {"axis": {"x": "independent", "y": "independent"}}
}
